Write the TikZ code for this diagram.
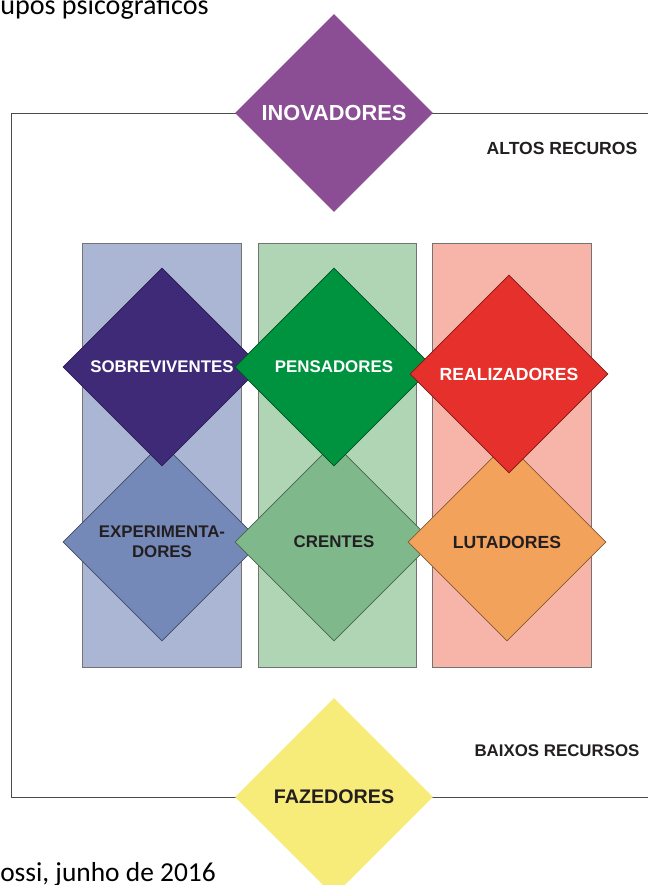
\documentclass[tikz,border=0pt]{standalone}
\usepackage{fontspec}
\setmainfont{Carlito}
\newfontfamily\labelfont{Liberation Sans}
\usetikzlibrary{shapes.geometric}

\definecolor{bandblue}{HTML}{AAB6D4}
\definecolor{bandgreen}{HTML}{B0D5B4}
\definecolor{bandred}{HTML}{F7B5AA}
\definecolor{inovcol}{HTML}{8B4D93}
\definecolor{sobrcol}{HTML}{3F2A78}
\definecolor{penscol}{HTML}{00933F}
\definecolor{realcol}{HTML}{E5302C}
\definecolor{expecol}{HTML}{7589B8}
\definecolor{crencol}{HTML}{7FB88A}
\definecolor{lutacol}{HTML}{F3A25C}
\definecolor{fazecol}{HTML}{F7EC7A}
\definecolor{inkdark}{HTML}{231F20}

\begin{document}
\begin{tikzpicture}[
  grp/.style={diamond, minimum width=4.95cm, minimum height=4.95cm, inner sep=0pt,
    align=center, line width=0.5pt, text=inkdark,
    font=\labelfont\bfseries\fontsize{12}{14.2}\selectfont},
  band/.style={draw=black!55, line width=0.5pt}
]
  \useasboundingbox (0,0) rectangle (16.2,22.125);
  % frame
  \draw[black!70, line width=0.6pt] (16.4,19.3) -- (0.275,19.3) -- (0.275,2.2) -- (16.4,2.2);
  % columns
  \draw[band, fill=bandblue] (2.06,5.45) rectangle (6.03,16.05);
  \draw[band, fill=bandgreen] (6.45,5.45) rectangle (10.4,16.05);
  \draw[band, fill=bandred] (10.8,5.45) rectangle (14.78,16.05);
  % lower row
  \node[grp, fill=expecol, draw=expecol!55!black] (experimentadores) at (4.05,8.575) {EXPERIMENTA-\\DORES};
  \node[grp, fill=crencol, draw=crencol!55!black] (crentes) at (8.35,8.575) {CRENTES};
  \node[grp, fill=lutacol, draw=lutacol!55!black, font=\labelfont\bfseries\fontsize{12.5}{15}\selectfont] (lutadores) at (12.675,8.575) {LUTADORES};
  % upper row
  \node[grp, fill=sobrcol, draw=sobrcol!70!black, text=white] (sobreviventes) at (4.05,12.95) {SOBREVIVENTES};
  \node[grp, fill=penscol, draw=penscol!55!black, text=white] (pensadores) at (8.35,12.95) {PENSADORES};
  \node[grp, fill=realcol, draw=realcol!55!black, text=white, font=\labelfont\bfseries\fontsize{12.5}{15}\selectfont] (realizadores) at (12.725,12.775) {REALIZADORES};
  % top and bottom
  \node[grp, fill=inovcol, draw=none, text=white, font=\labelfont\bfseries\fontsize{15.5}{18}\selectfont] (inovadores) at (8.35,19.3) {INOVADORES};
  \node[grp, fill=fazecol, draw=none, font=\labelfont\bfseries\fontsize{14}{17}\selectfont] (fazedores) at (8.35,2.2) {FAZEDORES};
  \node[text=inkdark, font=\labelfont\bfseries\fontsize{12.5}{15}\selectfont] (altos) at (14.05,18.425) {ALTOS RECUROS};
  \node[text=inkdark, font=\labelfont\bfseries\fontsize{12}{14}\selectfont] (baixos) at (13.925,3.35) {BAIXOS RECURSOS};
  % captions
  \node[anchor=base west, inner sep=0pt, font=\fontsize{20}{24}\selectfont] (titulo) at (0,21.76) {upos psicográficos};
  \node[anchor=base west, inner sep=0pt, font=\fontsize{19.5}{23}\selectfont] (fonte) at (0,0.08) {ossi, junho de 2016};
\end{tikzpicture}
\end{document}
